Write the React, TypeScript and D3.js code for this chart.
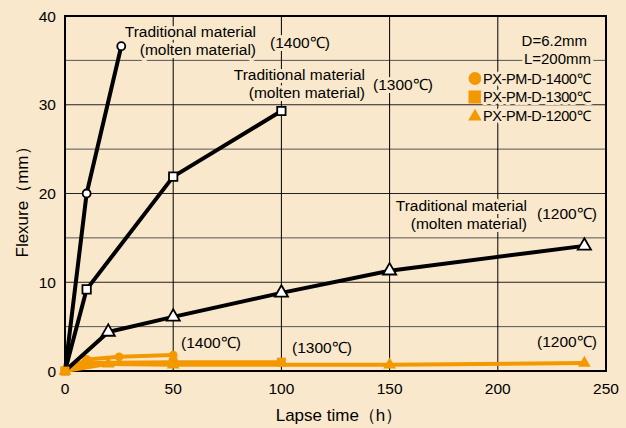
import * as d3 from 'd3'

// lapse time (h) / flexure (mm)
const tradTime1400 = [0, 10, 26]
const tradFlex1400 = [0, 20, 36.6]
const tradTime1300 = [0, 10, 50, 100]
const tradFlex1300 = [0, 9.2, 21.9, 29.3]
const tradTime1200 = [0, 20, 50, 100, 150, 240]
const tradFlex1200 = [0, 4.4, 6.1, 8.8, 11.3, 14.1]

const pxTime1400 = [0, 10, 25, 50]
const pxFlex1400 = [0, 1.3, 1.6, 1.8]
const pxTime1300 = [0, 10, 50, 100]
const pxFlex1300 = [0, 0.9, 1.0, 1.0]
const pxTime1200 = [0, 20, 50, 150, 240]
const pxFlex1200 = [0, 0.8, 0.7, 0.7, 0.9]

const xTicks = [0, 50, 100, 150, 200, 250]
const yTicks = [0, 10, 20, 30, 40]
const legendNames = ['PX-PM-D-1400℃', 'PX-PM-D-1300℃', 'PX-PM-D-1200℃']

const W = 626
const H = 428
const BG = '#f9e8cb'
const ORANGE = '#f39800'
const FONT = '"Liberation Sans", Arial, sans-serif'

function App() {
  const margin = { top: 16, right: 20, bottom: 57, left: 65 }
  const x = d3.scaleLinear().domain([0, 250]).range([margin.left, W - margin.right])
  const y = d3.scaleLinear().domain([0, 40]).range([H - margin.bottom, margin.top])

  const line = d3.line<[number, number]>().x(d => x(d[0])).y(d => y(d[1]))
  const zip = (t: number[], v: number[]) => t.map((d, i) => [d, v[i]] as [number, number])

  const trad = [
    { pts: zip(tradTime1400, tradFlex1400), sym: d3.symbolCircle, size: 50 },
    { pts: zip(tradTime1300, tradFlex1300), sym: d3.symbolSquare, size: 70 },
    { pts: zip(tradTime1200, tradFlex1200), sym: d3.symbolTriangle, size: 75 },
  ]
  const px = [
    { pts: zip(pxTime1400, pxFlex1400), sym: d3.symbolCircle, size: 60 },
    { pts: zip(pxTime1300, pxFlex1300), sym: d3.symbolSquare, size: 80 },
    { pts: zip(pxTime1200, pxFlex1200), sym: d3.symbolTriangle, size: 70 },
  ]

  const halo = { paintOrder: 'stroke', stroke: BG, strokeWidth: 6, strokeLinejoin: 'round' } as any
  const label = (xx: number, yy: number, txt: string, anchor = 'start') => (
    <text x={xx} y={yy} textAnchor={anchor} fontSize={15.5} style={halo}>{txt}</text>
  )

  return (
    <svg width={W} height={H} style={{ position: 'absolute', left: 0, top: 0, background: BG }} fontFamily={FONT}>
      {/* grid */}
      {d3.range(5, 40, 5).map(v => (
        <line key={'h' + v} x1={x(0)} x2={x(250)} y1={y(v)} y2={y(v)} stroke={v % 10 ? '#555' : '#222'} strokeWidth={1} />
      ))}
      {[50, 100, 150, 200].map(v => (
        <line key={'v' + v} x1={x(v)} x2={x(v)} y1={y(0)} y2={y(40)} stroke="#000" strokeWidth={1} />
      ))}

      {/* labels (with background halo over the grid) */}
      {label(256, 37, 'Traditional material', 'end')}
      {label(256, 55, '(molten material)', 'end')}
      {label(270, 48, '(1400℃)')}
      {label(365, 80, 'Traditional material', 'end')}
      {label(365, 98, '(molten material)', 'end')}
      {label(373, 90, '(1300℃)')}
      {label(527, 211, 'Traditional material', 'end')}
      {label(527, 229, '(molten material)', 'end')}
      {label(537, 219, '(1200℃)')}
      {label(181, 348, '(1400℃)')}
      {label(292, 353, '(1300℃)')}
      {label(537, 347, '(1200℃)')}

      {/* legend */}
      <g fontSize={15} style={halo}>
        <text x={587} y={46} textAnchor="end">D=6.2mm</text>
        <text x={591} y={64} textAnchor="end">L=200mm</text>
      </g>
      {legendNames.map((n, i) => {
        const ly = 78.5 + i * 18.5
        const sym = [d3.symbolCircle, d3.symbolSquare, d3.symbolTriangle][i]
        const sz = [130, 170, 80][i]
        return (
          <g key={n}>
            <path d={d3.symbol(sym, sz)() as string} transform={`translate(475,${ly + (i === 2 ? 1 : 0)})`} fill={ORANGE} />
            <text x={483} y={ly + 5} fontSize={14.5} style={halo} letterSpacing={-0.4}>{n}</text>
          </g>
        )
      })}

      {/* frame */}
      <rect x={x(0)} y={y(40)} width={x(250) - x(0)} height={y(0) - y(40)} fill="none" stroke="#000" strokeWidth={2} />

      {/* PX series */}
      {px.map((s, i) => (
        <g key={'p' + i}>
          <path d={line(s.pts) as string} fill="none" stroke={ORANGE} strokeWidth={4} strokeLinejoin="round" />
          {s.pts.map((p, j) => (
            <path key={j} d={d3.symbol(s.sym, s.size)() as string} transform={`translate(${x(p[0])},${y(p[1])})`} fill={ORANGE} />
          ))}
        </g>
      ))}

      {/* traditional series */}
      {trad.map((s, i) => (
        <g key={'t' + i}>
          <path d={line(s.pts) as string} fill="none" stroke="#000" strokeWidth={4} strokeLinejoin="round" />
          {s.pts.slice(1).map((p, j) => (
            <path key={j} d={d3.symbol(s.sym, s.size)() as string} transform={`translate(${x(p[0])},${y(p[1])})`} fill="#fff" stroke="#000" strokeWidth={1.8} />
          ))}
        </g>
      ))}
      <path d={d3.symbol(d3.symbolSquare, 80)() as string} transform={`translate(${x(0)},${y(0)})`} fill={ORANGE} />

      {/* axes labels */}
      {yTicks.map(v => (
        <text key={'yt' + v} x={56} y={y(v) + 5.5} textAnchor="end" fontSize={15.5}>{v}</text>
      ))}
      {xTicks.map(v => (
        <text key={'xt' + v} x={x(v)} y={394} textAnchor="middle" fontSize={15.5}>{v}</text>
      ))}
      <text x={339} y={421} textAnchor="middle" fontSize={17}>Lapse time（h）</text>
      <text transform="translate(28,198) rotate(-90)" textAnchor="middle" fontSize={17}>Flexure（mm）</text>
    </svg>
  )
}

export default App
